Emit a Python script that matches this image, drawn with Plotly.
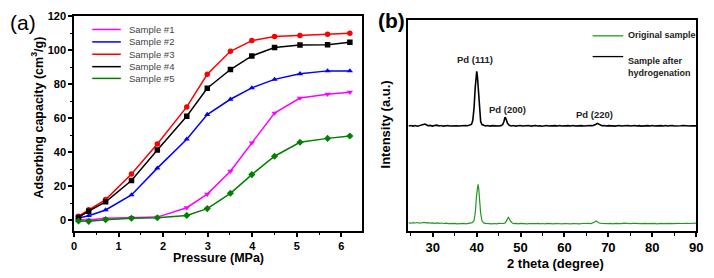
import plotly.graph_objects as go

W, H = 714, 278

# ---------------- Panel (a) data ----------------
pressure = [0.1, 0.33, 0.71, 1.29, 1.87, 2.53, 2.99, 3.51, 3.99, 4.5, 5.07, 5.69, 6.19]
sample1 = [0.5, 0.3, 1.3, 1.8, 2.0, 7.5, 15.5, 29.0, 45.7, 63.2, 72.0, 74.3, 75.5]
sample2 = [1.5, 2.8, 6.2, 15.0, 30.8, 47.8, 62.3, 71.3, 78.0, 83.0, 86.3, 88.0, 88.0]
sample3 = [2.5, 6.3, 12.3, 27.3, 45.0, 66.8, 86.0, 99.5, 105.8, 108.2, 108.8, 109.6, 110.2]
sample4 = [1.8, 5.5, 11.0, 23.5, 41.5, 61.3, 77.8, 88.8, 96.8, 101.7, 103.2, 103.3, 104.8]
sample5 = [-0.3, -0.5, 0.5, 1.3, 1.6, 3.0, 7.0, 16.0, 27.0, 37.8, 46.0, 48.3, 49.7]
series_names = ["Sample #1", "Sample #2", "Sample #3", "Sample #4", "Sample #5"]
series_colors = ["#FF00FF", "#0000FF", "#FF0000", "#000000", "#008000"]
series_symbols = ["triangle-down", "triangle-up", "circle", "square", "diamond"]
x_ticks_a = [0, 1, 2, 3, 4, 5, 6]
y_ticks_a = [0, 20, 40, 60, 80, 100, 120]

# ---------------- Panel (b) data ----------------
tt_black = [24.5, 25.0, 25.5, 26.0, 26.5, 27.0, 27.5, 27.9, 28.2, 28.5, 28.9, 29.4, 29.9, 30.4, 30.9,
            31.4, 31.9, 32.4, 32.9, 33.4, 33.9, 34.4, 34.9, 35.4, 35.9, 36.4, 36.9, 37.4, 37.9, 38.4,
            38.8, 39.1, 39.4, 39.65, 39.85, 40.0, 40.15, 40.35, 40.6, 40.9, 41.2, 41.6, 42.0, 42.5, 43.0,
            43.5, 44.0, 44.5, 45.0, 45.5, 45.9, 46.2, 46.45, 46.7, 47.0, 47.4, 47.9, 48.4, 48.9, 49.4,
            49.9, 50.4, 50.9, 51.4, 51.9, 52.4, 52.9, 53.4, 53.9, 54.4, 54.9, 55.4, 55.9, 56.4, 56.9,
            57.4, 57.9, 58.4, 58.9, 59.4, 59.9, 60.4, 60.9, 61.4, 61.9, 62.4, 62.9, 63.4, 63.9, 64.4,
            64.9, 65.4, 65.9, 66.4, 66.9, 67.2, 67.5, 67.8, 68.1, 68.5, 69.0, 69.5, 70.0, 70.5, 71.0,
            71.5, 72.0, 72.5, 73.0, 73.5, 74.0, 74.5, 75.0, 75.5, 76.0, 76.5, 77.0, 77.5, 78.0, 78.5,
            79.0, 79.5, 80.0, 80.5, 81.0, 81.5, 82.0, 82.5, 83.0, 83.5, 84.0, 84.5, 85.0, 85.5, 86.0,
            86.5, 87.0, 87.5, 88.0, 88.5, 89.0, 89.5, 90.0]
int_black = [107.4, 107.9, 107.3, 107.8, 107.2, 107.7, 108.1, 108.7, 109.3, 108.6, 107.6, 108.0, 107.3, 107.9, 108.2,
             107.4, 107.8, 107.2, 107.6, 107.9, 107.3, 107.5, 107.1, 107.6, 107.3, 107.7, 107.4, 107.8, 107.6, 108.0,
             109.0, 113.0, 126.0, 146.0, 160.0, 163.3, 159.0, 145.0, 124.0, 112.0, 108.8, 107.8, 107.4, 107.9, 107.2,
             107.7, 107.4, 107.8, 107.3, 107.7, 108.6, 112.0, 116.3, 114.5, 110.2, 108.0, 107.4, 107.8, 107.2, 107.6,
             107.9, 107.3, 107.7, 107.4, 107.9, 107.2, 107.6, 107.8, 107.3, 107.6, 107.1, 107.5, 107.8, 107.3, 107.6,
             107.2, 107.7, 107.4, 107.8, 107.3, 107.6, 107.2, 107.7, 107.4, 107.9, 107.3, 107.6, 107.2, 107.7, 107.4,
             107.8, 107.5, 107.9, 107.6, 108.2, 109.2, 110.0, 109.0, 108.0, 107.6, 107.8, 107.3, 107.7, 107.4, 107.8,
             107.2, 107.6, 107.9, 107.3, 107.7, 107.5, 107.9, 107.3, 107.6, 107.9, 107.4, 107.7, 107.2, 107.6, 107.3,
             107.7, 107.4, 107.8, 107.3, 107.6, 107.2, 107.7, 107.4, 107.8, 107.3, 107.6, 107.9, 107.4, 107.7, 107.3,
             107.6, 107.8, 107.4, 107.7, 107.3, 107.6, 107.8, 107.5]

tt_green = [24.5, 25.0, 25.5, 26.0, 26.5, 27.0, 27.5, 28.0, 28.5, 29.0, 29.5, 30.0, 30.5, 31.0, 31.5,
            32.0, 32.5, 33.0, 33.5, 34.0, 34.5, 35.0, 35.5, 36.0, 36.5, 37.0, 37.5, 38.0, 38.5, 39.0,
            39.4, 39.7, 39.95, 40.15, 40.3, 40.45, 40.65, 40.9, 41.2, 41.6, 42.0, 42.5, 43.0, 43.5, 44.0,
            44.5, 45.0, 45.5, 46.0, 46.5, 46.8, 47.05, 47.2, 47.4, 47.7, 48.1, 48.5, 49.0, 49.5, 50.0,
            50.5, 51.0, 51.5, 52.0, 52.5, 53.0, 53.5, 54.0, 54.5, 55.0, 55.5, 56.0, 56.5, 57.0, 57.5,
            58.0, 58.5, 59.0, 59.5, 60.0, 60.5, 61.0, 61.5, 62.0, 62.5, 63.0, 63.5, 64.0, 64.5, 65.0,
            65.5, 66.0, 66.5, 66.9, 67.2, 67.5, 67.9, 68.5, 69.0, 69.5, 70.0, 70.5, 71.0, 71.5, 72.0,
            72.5, 73.0, 73.5, 74.0, 74.5, 75.0, 75.5, 76.0, 76.5, 77.0, 77.5, 78.0, 78.5, 79.0, 79.5,
            80.0, 80.5, 81.0, 81.5, 82.0, 82.5, 83.0, 83.5, 84.0, 84.5, 85.0, 85.5, 86.0, 86.5, 87.0,
            87.5, 88.0, 88.5, 89.0, 89.5, 90.0]
int_green = [8.4, 8.0, 8.6, 8.2, 8.7, 8.1, 8.5, 8.9, 8.3, 8.6, 8.0, 8.4, 7.9, 8.3, 7.8,
             8.2, 7.7, 8.1, 7.6, 7.9, 7.5, 7.8, 7.4, 7.7, 7.5, 7.8, 7.4, 7.7, 7.9, 8.6,
             11.0, 20.0, 36.0, 46.0, 47.7, 44.0, 32.0, 18.0, 10.5, 8.3, 7.8, 7.5, 7.9, 7.4, 7.7,
             7.3, 7.8, 7.5, 7.7, 8.3, 10.5, 13.3, 14.0, 12.8, 10.0, 8.2, 7.6, 7.9, 7.4, 7.8,
             7.5, 7.9, 7.3, 7.7, 7.4, 7.8, 7.5, 7.9, 7.4, 7.7, 7.3, 7.8, 7.5, 7.9, 7.4,
             7.7, 7.5, 7.8, 7.3, 7.7, 7.5, 7.9, 7.4, 7.7, 7.5, 7.8, 7.4, 7.7, 7.9, 7.5,
             7.8, 7.6, 8.2, 9.2, 10.2, 9.4, 8.2, 7.8, 7.5, 7.9, 7.6, 7.8, 7.4, 7.8, 7.5,
             7.9, 7.6, 8.0, 7.7, 8.1, 7.6, 7.9, 7.5, 7.8, 7.6, 7.9, 7.5, 7.8, 7.6, 7.9,
             7.5, 7.8, 7.4, 7.7, 7.9, 7.5, 7.8, 7.6, 7.9, 7.5, 7.8, 7.6, 7.9, 7.7, 8.0,
             7.6, 7.9, 7.7, 8.0, 7.8, 8.0]
x_ticks_b = [30, 40, 50, 60, 70, 80, 90]
peak_labels = ["Pd (111)", "Pd (200)", "Pd (220)"]
peak_label_x = [39.7, 47.0, 66.9]
peak_label_y = [175, 124, 119]
green_b = "#1f9a1f"

FONT = "Liberation Sans, Arial, sans-serif"

fig = go.Figure()
all_a = [sample1, sample2, sample3, sample4, sample5]
for name, vals, col, sym in zip(series_names, all_a, series_colors, series_symbols):
    fig.add_trace(go.Scatter(x=pressure, y=vals, mode="lines+markers", name=name,
                             line=dict(color=col, width=1.5),
                             marker=dict(symbol=sym, size=5.5, color=col),
                             xaxis="x", yaxis="y", showlegend=False))

fig.add_trace(go.Scatter(x=tt_black, y=int_black, mode="lines", name="Sample after hydrogenation",
                         line=dict(color="#000000", width=1.6), xaxis="x2", yaxis="y2",
                         showlegend=False))
fig.add_trace(go.Scatter(x=tt_green, y=int_green, mode="lines", name="Original sample",
                         line=dict(color=green_b, width=1.2), xaxis="x2", yaxis="y2",
                         showlegend=False))


def px(x):
    return x / W


def py(y):
    return 1 - y / H


axis_common = dict(showline=True, linecolor="black", linewidth=1.5, mirror=True,
                   showgrid=False, zeroline=False, ticks="outside", tickcolor="black",
                   tickwidth=1.5)

annotations = []
shapes = []


def note(text, x, y, size, weight="normal", color="black", xanchor="center", angle=0, align="center"):
    annotations.append(dict(text=text, x=px(x), y=py(y), xref="paper", yref="paper",
                            xanchor=xanchor, yanchor="middle", showarrow=False, textangle=angle,
                            align=align,
                            font=dict(family=FONT, size=size, color=color, weight=weight)))


# panel labels
note("(a)", 20, 17, 21)
note("(b)", 394, 15, 21, weight="bold")
# axis titles
note("Adsorbing capacity (cm<sup>3</sup>/g)", 35, 114.5, 12.5, weight="bold", angle=-90)
note("Pressure (MPa)", 219, 258, 12.5, weight="bold")
note("Intensity (a.u.)", 388, 121.5, 13, weight="bold", angle=-90)
note("2 theta (degree)", 560, 263, 13, weight="bold")

# legend (a)
leg_rows = [24, 36.7, 49.3, 62, 74]
for name, col, yy in zip(series_names, series_colors, leg_rows):
    shapes.append(dict(type="line", xref="paper", yref="paper", x0=px(90.5), x1=px(119.5),
                       y0=py(yy), y1=py(yy), line=dict(color=col, width=1.5)))
    note(name, 125.5, yy, 9.5, color="#444444", xanchor="left")

# legend (b)
shapes.append(dict(type="line", xref="paper", yref="paper", x0=px(598), x1=px(629),
                   y0=py(30.5), y1=py(30.5), line=dict(color=green_b, width=1.3)))
note("Original sample", 632, 29.5, 9, weight="bold", color="#222222", xanchor="left")
shapes.append(dict(type="line", xref="paper", yref="paper", x0=px(598), x1=px(629),
                   y0=py(51.7), y1=py(51.7), line=dict(color="black", width=1.3)))
note("Sample after<br>hydrogenation", 632, 62, 9, weight="bold", color="#222222",
     xanchor="left", align="left")

# peak labels
for lab, lx, ly in zip(peak_labels, peak_label_x, peak_label_y):
    annotations.append(dict(text=lab, x=lx, y=ly, xref="x2", yref="y2", showarrow=False,
                            xanchor="center", yanchor="middle",
                            font=dict(family=FONT, size=9.5, color="#222222", weight="bold")))

fig.update_layout(
    width=W, height=H,
    margin=dict(l=0, r=0, t=0, b=0),
    paper_bgcolor="white", plot_bgcolor="white",
    showlegend=False,
    xaxis=dict(domain=[px(72), px(364)], range=[0, 6.46], tickvals=x_ticks_a, ticklen=4,
               minor=dict(dtick=0.5, tick0=0, ticklen=2.5, ticks="outside", tickcolor="black", tickwidth=1.2),
               tickfont=dict(family=FONT, size=11, color="black", weight="bold"), anchor="y",
               **axis_common),
    yaxis=dict(domain=[1 - 230 / H, 1 - 10.7 / H], range=[-6.2, 120], tickvals=y_ticks_a, ticklen=4,
               minor=dict(dtick=10, tick0=0, ticklen=2.5, ticks="outside", tickcolor="black", tickwidth=1.2),
               tickfont=dict(family=FONT, size=11, color="black", weight="bold"), anchor="x",
               **axis_common),
    xaxis2=dict(domain=[px(411), px(703)], range=[24.4, 90], tickvals=x_ticks_b, ticklen=4,
                minor=dict(dtick=5, tick0=0, ticklen=3, ticks="outside", tickcolor="black", tickwidth=1.2),
                tickfont=dict(family=FONT, size=13, color="black", weight="bold"), anchor="y2",
                **axis_common),
    yaxis2=dict(domain=[1 - 230 / H, 1 - 14.3 / H], range=[0, 215.7], showticklabels=False,
                anchor="x2", showline=True, linecolor="black", linewidth=1.5, mirror=True,
                showgrid=False, zeroline=False, ticks=""),
    annotations=annotations,
    shapes=shapes,
)

fig.write_html("out.html")
